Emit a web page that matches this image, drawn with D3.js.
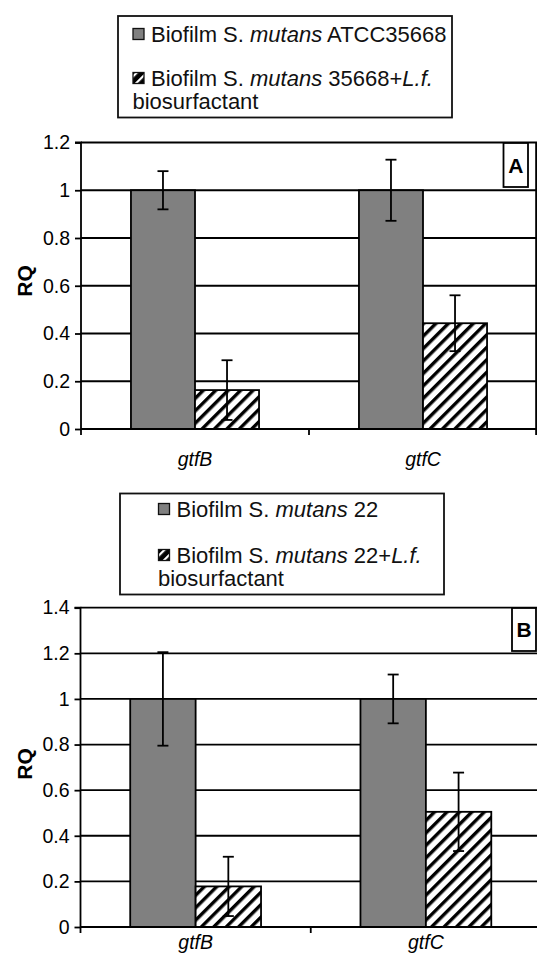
<!DOCTYPE html>
<html>
<head>
<meta charset="utf-8">
<script src="https://cdn.jsdelivr.net/npm/d3@7"></script>
<style>
  html, body { margin: 0; padding: 0; background: #fff; }
  svg { display: block; font-family: "Liberation Sans", Arial, sans-serif; }
</style>
</head>
<body>
<svg id="chart" width="537" height="953"></svg>
<script>
// ---------------- DATA ----------------
const categories = ["gtfB", "gtfC"];
const seriesKeys = ["control", "treated"];

// Panel A
const controlA = [1, 1];
const controlErrA = [0.08, 0.128];
const treatedA = [0.163, 0.443];
const treatedErrA = [0.125, 0.117];
const yTicksA = [0, 0.2, 0.4, 0.6, 0.8, 1, 1.2];

// Panel B
const controlB = [1, 1];
const controlErrB = [0.205, 0.107];
const treatedB = [0.178, 0.505];
const treatedErrB = [0.13, 0.172];
const yTicksB = [0, 0.2, 0.4, 0.6, 0.8, 1, 1.2, 1.4];

const legendA = [
  [{t: "Biofilm S. "}, {t: "mutans", i: true}, {t: " ATCC35668"}],
  [{t: "Biofilm S. "}, {t: "mutans", i: true}, {t: " 35668+"}, {t: "L.f.", i: true}],
  [{t: "biosurfactant"}]
];
const legendB = [
  [{t: "Biofilm S. "}, {t: "mutans", i: true}, {t: " 22"}],
  [{t: "Biofilm S. "}, {t: "mutans", i: true}, {t: " 22+"}, {t: "L.f.", i: true}],
  [{t: "biosurfactant"}]
];

// ---------------- DRAW ----------------
const svg = d3.select("#chart");
const defs = svg.append("defs");
const hatch = defs.append("pattern")
  .attr("id", "hatch").attr("patternUnits", "userSpaceOnUse")
  .attr("width", 8.8).attr("height", 8.8)
  .attr("patternTransform", "rotate(45)");
hatch.append("rect").attr("width", 8.8).attr("height", 8.8).attr("fill", "#fff");
hatch.append("rect").attr("x", 0).attr("y", 0).attr("width", 3.4).attr("height", 8.8).attr("fill", "#000");

const hatchSmall = defs.append("pattern")
  .attr("id", "hatchSmall").attr("patternUnits", "userSpaceOnUse")
  .attr("width", 7).attr("height", 7)
  .attr("patternTransform", "rotate(45)");
hatchSmall.append("rect").attr("width", 7).attr("height", 7).attr("fill", "#000");
hatchSmall.append("rect").attr("x", 0).attr("y", 0).attr("width", 2.2).attr("height", 7).attr("fill", "#fff");

const GRAY = "#808080";
const SW = 1.8;

function drawPanel(cfg) {
  const g = svg.append("g");
  const x = d3.scaleBand().domain(categories).range([cfg.x0, cfg.x1]).padding(0);
  const xs = d3.scaleBand().domain(seriesKeys).range([0, x.bandwidth()])
    .paddingInner(0).paddingOuter(cfg.outer);
  const y = d3.scaleLinear().domain([0, cfg.yMax]).range([cfg.y0, cfg.yTop]);

  // gridlines
  g.append("g").selectAll("line").data(cfg.ticks.filter(d => d > 0)).join("line")
    .attr("x1", cfg.x0).attr("x2", cfg.x1)
    .attr("y1", d => y(d)).attr("y2", d => y(d))
    .attr("stroke", "#000").attr("stroke-width", SW);
  // right border
  g.append("line").attr("x1", cfg.x1 - 0.9).attr("x2", cfg.x1 - 0.9)
    .attr("y1", y(cfg.yMax)).attr("y2", y(0))
    .attr("stroke", "#000").attr("stroke-width", SW);

  // bars
  const rows = categories.map((c, i) => ({
    cat: c,
    vals: [
      {key: "control", v: cfg.control[i], e: cfg.controlErr[i]},
      {key: "treated", v: cfg.treated[i], e: cfg.treatedErr[i]}
    ]
  }));
  const grp = g.append("g").selectAll("g").data(rows).join("g")
    .attr("transform", d => `translate(${x(d.cat)},0)`);
  grp.selectAll("rect").data(d => d.vals).join("rect")
    .attr("x", d => xs(d.key)).attr("width", xs.bandwidth())
    .attr("y", d => y(d.v)).attr("height", d => y(0) - y(d.v))
    .attr("fill", d => d.key === "control" ? GRAY : "url(#hatch)")
    .attr("stroke", "#000").attr("stroke-width", SW);
  // error bars
  const eb = grp.selectAll("g.eb").data(d => d.vals).join("g").attr("class", "eb");
  eb.append("line")
    .attr("x1", d => xs(d.key) + xs.bandwidth() / 2).attr("x2", d => xs(d.key) + xs.bandwidth() / 2)
    .attr("y1", d => y(d.v + d.e)).attr("y2", d => y(d.v - d.e))
    .attr("stroke", "#000").attr("stroke-width", SW);
  eb.selectAll("line.cap").data(d => [d.v + d.e, d.v - d.e].map(t => ({t, d}))).join("line")
    .attr("class", "cap")
    .attr("x1", o => xs(o.d.key) + xs.bandwidth() / 2 - 5.5)
    .attr("x2", o => xs(o.d.key) + xs.bandwidth() / 2 + 5.5)
    .attr("y1", o => y(o.t)).attr("y2", o => y(o.t))
    .attr("stroke", "#000").attr("stroke-width", SW);

  // y axis
  const yAxis = d3.axisLeft(y).tickValues(cfg.ticks).tickSize(6).tickPadding(5)
    .tickFormat(d => String(+d.toFixed(1)));
  const ya = g.append("g").attr("transform", `translate(${cfg.x0},0)`).call(yAxis);
  ya.select(".domain").attr("stroke", "#000").attr("stroke-width", SW)
    .attr("d", `M-6,${y(cfg.yMax)}H0V${y(0)}`);
  ya.selectAll(".tick line").attr("stroke", "#000").attr("stroke-width", SW);
  ya.selectAll(".tick text").attr("font-size", "19.5px").attr("fill", "#000")
    .attr("font-family", "Liberation Sans, Arial, sans-serif");

  // x axis
  const xAxis = d3.axisBottom(x).tickSize(0).tickPadding(cfg.xLabelPad);
  const xa = g.append("g").attr("transform", `translate(0,${cfg.y0})`).call(xAxis);
  xa.select(".domain").attr("stroke", "#000").attr("stroke-width", SW)
    .attr("d", `M${cfg.x0},0H${cfg.x1}`);
  xa.selectAll(".tick text").attr("font-size", "19.5px").attr("font-style", "italic")
    .attr("fill", "#000").attr("font-family", "Liberation Sans, Arial, sans-serif");
  // boundary ticks
  const edges = [cfg.x0, ...categories.slice(1).map(c => x(c)), cfg.x1 - 0.9];
  xa.append("g").selectAll("line").data(edges).join("line")
    .attr("x1", d => d).attr("x2", d => d).attr("y1", 0).attr("y2", 6)
    .attr("stroke", "#000").attr("stroke-width", SW);

  // RQ label
  g.append("text").attr("transform", `translate(${cfg.rqX},${cfg.rqY}) rotate(-90)`)
    .attr("text-anchor", "middle").attr("dominant-baseline", "central")
    .attr("font-size", "21px").attr("font-weight", "bold").attr("fill", "#000").text("RQ");

  // panel letter box
  g.append("rect").attr("x", cfg.letterBox[0]).attr("y", cfg.letterBox[1])
    .attr("width", cfg.letterBox[2]).attr("height", cfg.letterBox[3])
    .attr("fill", "#fff").attr("stroke", "#000").attr("stroke-width", SW);
  g.append("text").attr("x", cfg.letterBox[0] + cfg.letterBox[2] / 2)
    .attr("y", cfg.letterBox[1] + cfg.letterBox[3] / 2 + 7.5)
    .attr("text-anchor", "middle").attr("font-size", "21px").attr("font-weight", "bold")
    .attr("fill", "#000").text(cfg.letter);

  // legend
  const L = cfg.legend;
  g.append("rect").attr("x", L.x).attr("y", L.y).attr("width", L.w).attr("height", L.h)
    .attr("fill", "#fff").attr("stroke", "#111").attr("stroke-width", SW);
  const fills = [GRAY, "url(#hatchSmall)"];
  [0, 1].forEach(i => {
    g.append("rect").attr("x", L.mx).attr("y", L.my[i]).attr("width", 11).attr("height", 11)
      .attr("fill", fills[i]).attr("stroke", "#111").attr("stroke-width", 1.3);
  });
  cfg.legendText.forEach((parts, i) => {
    const t = g.append("text").attr("x", i === 2 ? L.mx - 0.5 : L.tx).attr("y", L.base[i])
      .attr("font-size", "22px").attr("fill", "#111");
    t.selectAll("tspan").data(parts).join("tspan")
      .attr("font-style", d => d.i ? "italic" : "normal")
      .text(d => d.t);
  });
}

drawPanel({
  x0: 81, x1: 537, y0: 429, yTop: 142.5, yMax: 1.2, ticks: yTicksA, outer: 0.78,
  control: controlA, controlErr: controlErrA, treated: treatedA, treatedErr: treatedErrA,
  xLabelPad: 23, rqX: 24, rqY: 281,
  letterBox: [503.5, 143, 24.5, 44], letter: "A",
  legend: {x: 118, y: 16, w: 334, h: 101.5, mx: 133, my: [28.5, 72.5], tx: 151, base: [42, 85.5, 108.5]},
  legendText: legendA
});

drawPanel({
  x0: 80.5, x1: 541, y0: 927, yTop: 607.7, yMax: 1.4, ticks: yTicksB, outer: 0.76,
  control: controlB, controlErr: controlErrB, treated: treatedB, treatedErr: treatedErrB,
  xLabelPad: 8, rqX: 24, rqY: 764,
  letterBox: [512, 608, 24, 43], letter: "B",
  legend: {x: 120, y: 493.5, w: 324, h: 101, mx: 158.5, my: [503.5, 549.5], tx: 176.5, base: [517, 563, 586.2]},
  legendText: legendB
});
</script>
</body>
</html>
